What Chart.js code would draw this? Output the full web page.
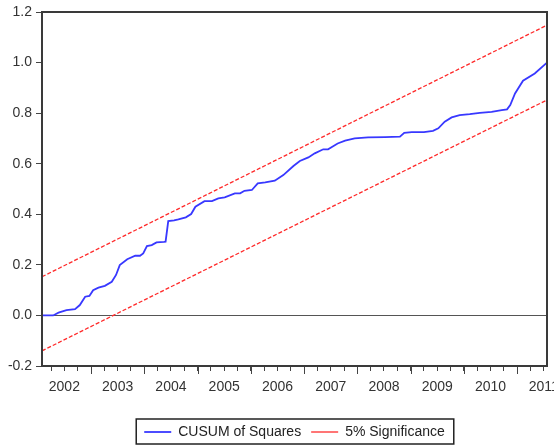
<!DOCTYPE html>
<html lang="en">
<head>
<meta charset="utf-8"/>
<title>CUSUM of Squares</title>
<script src="https://cdn.jsdelivr.net/npm/chart.js"></script>
<style>
  body { margin: 0; background: #fff; }
  canvas { display: block; }
</style>
</head>
<body>
<canvas id="grafico" width="554" height="446"></canvas>
<script>
  // x in decimal years
  const xMin = 2002.08, xMax = 2011.56;
  const yearLabels = [2002, 2003, 2004, 2005, 2006, 2007, 2008, 2009, 2010, 2011];
  const yTicks = [-0.2, 0.0, 0.2, 0.4, 0.6, 0.8, 1.0, 1.2];

  const cusumX = [2002.08, 2002.29, 2002.39, 2002.54, 2002.70, 2002.79, 2002.89, 2002.97, 2003.04, 2003.14,
    2003.26, 2003.39, 2003.47, 2003.54, 2003.68, 2003.83, 2003.92, 2003.98, 2004.05, 2004.14,
    2004.23, 2004.37, 2004.40, 2004.45, 2004.56, 2004.64, 2004.78, 2004.88, 2004.96, 2005.13,
    2005.27, 2005.39, 2005.51, 2005.70, 2005.80, 2005.88, 2006.02, 2006.13, 2006.27, 2006.45,
    2006.61, 2006.80, 2006.92, 2007.08, 2007.20, 2007.36, 2007.45, 2007.53, 2007.63, 2007.77,
    2007.95, 2008.20, 2008.52, 2008.80, 2008.88, 2009.02, 2009.25, 2009.42, 2009.52, 2009.64,
    2009.77, 2009.92, 2010.11, 2010.30, 2010.52, 2010.71, 2010.81, 2010.87, 2010.96, 2011.11,
    2011.33, 2011.56];
  const cusumY = [0.000, 0.000, 0.011, 0.021, 0.025, 0.041, 0.074, 0.077, 0.100, 0.110,
    0.117, 0.133, 0.160, 0.199, 0.222, 0.236, 0.236, 0.245, 0.274, 0.278,
    0.289, 0.291, 0.292, 0.373, 0.376, 0.380, 0.388, 0.401, 0.430, 0.452,
    0.452, 0.463, 0.467, 0.483, 0.483, 0.493, 0.496, 0.522, 0.526, 0.533,
    0.555, 0.591, 0.611, 0.625, 0.641, 0.657, 0.657, 0.667, 0.680, 0.691,
    0.700, 0.704, 0.705, 0.707, 0.722, 0.725, 0.725, 0.730, 0.740, 0.766,
    0.783, 0.792, 0.796, 0.801, 0.805, 0.812, 0.815, 0.832, 0.878, 0.928,
    0.957, 1.000];

  const bandX = [2002.08, 2011.56];
  const upperY = [0.153, 1.148];
  const lowerY = [-0.140, 0.852];

  const fonte = { family: "'Liberation Sans', Arial, sans-serif", size: 14 };

  const quarterTicks = [];
  yearLabels.forEach(yr => {
    [0, 0.25, 0.5, 0.75].forEach(q => {
      const v = yr + q;
      if (v >= xMin && v <= xMax) quarterTicks.push(v);
    });
  });

  const pares = (xs, ys) => xs.map((x, i) => ({ x, y: ys[i] }));

  // frame, long year ticks and legend box
  const moldura = {
    id: 'moldura',
    afterDraw(chart) {
      const { ctx, chartArea: a } = chart;
      const sx = chart.scales.x;
      ctx.save();
      ctx.strokeStyle = '#444';
      ctx.lineWidth = 1;
      yearLabels.forEach(yr => {
        if (yr < xMin || yr > xMax) return;
        const px = Math.round(sx.getPixelForValue(yr)) + 0.5;
        ctx.beginPath();
        ctx.moveTo(px, a.bottom);
        ctx.lineTo(px, a.bottom + 8);
        ctx.stroke();
      });
      ctx.strokeStyle = '#3a3a3a';
      ctx.lineWidth = 2;
      ctx.strokeRect(a.left, a.top, a.right - a.left, a.bottom - a.top);

      const hb = chart.legend.legendHitBoxes;
      if (hb && hb.length) {
        const l = Math.min(...hb.map(h => h.left)) - 8;
        const r = Math.max(...hb.map(h => h.left + h.width)) + 9;
        const t = hb[0].top - 6;
        const b = hb[0].top + hb[0].height + 5;
        ctx.strokeStyle = '#222';
        ctx.lineWidth = 1.5;
        ctx.strokeRect(l, t, r - l, b - t);
      }
      ctx.restore();
    }
  };

  new Chart(document.getElementById('grafico').getContext('2d'), {
    type: 'line',
    data: {
      datasets: [
        { label: 'CUSUM of Squares', data: pares(cusumX, cusumY), borderColor: '#3838ff', borderWidth: 1.8, pointRadius: 0, tension: 0 },
        { label: '5% Significance', data: pares(bandX, upperY), borderColor: '#ff2a2a', borderWidth: 1.3, borderDash: [4, 2], pointRadius: 0 },
        { label: 'lower', data: pares(bandX, lowerY), borderColor: '#ff2a2a', borderWidth: 1.3, borderDash: [4, 2], pointRadius: 0 }
      ]
    },
    options: {
      responsive: false,
      animation: false,
      layout: { padding: { top: 12, right: 7, left: 0, bottom: -3 } },
      plugins: {
        tooltip: { enabled: false },
        legend: {
          position: 'bottom',
          fullSize: false,
          labels: {
            filter: item => item.datasetIndex < 2,
            usePointStyle: true,
            pointStyle: 'line',
            pointStyleWidth: 27,
            padding: 10,
            color: '#222',
            font: fonte
          }
        }
      },
      scales: {
        x: {
          type: 'linear',
          min: xMin,
          max: xMax,
          afterBuildTicks: s => { s.ticks = quarterTicks.map(v => ({ value: v })); },
          afterFit: s => { s.height = 49; s.paddingLeft = 0; s.paddingRight = 0; },
          ticks: {
            autoSkip: false,
            maxRotation: 0,
            padding: 8,
            color: '#333',
            font: fonte,
            callback: v => {
              const yr = Math.floor(v + 1e-6);
              return Math.abs(v - yr - 0.5) < 1e-6 ? String(yr) : '';
            }
          },
          grid: { drawOnChartArea: false, tickLength: 5, tickColor: '#444', tickWidth: 1 },
          border: { display: false }
        },
        y: {
          min: -0.2,
          max: 1.2,
          afterBuildTicks: s => { s.ticks = yTicks.map(v => ({ value: v })); },
          afterFit: s => { s.width = 42; s.paddingTop = 0; s.paddingBottom = 0; },
          ticks: { padding: 4, color: '#333', font: fonte, callback: v => v.toFixed(1) },
          grid: {
            color: c => (c.tick && Math.abs(c.tick.value) < 1e-9 ? '#555' : 'rgba(0,0,0,0)'),
            lineWidth: 1,
            tickLength: 6,
            tickColor: '#444'
          },
          border: { display: false }
        }
      }
    },
    plugins: [moldura]
  });
</script>
</body>
</html>
